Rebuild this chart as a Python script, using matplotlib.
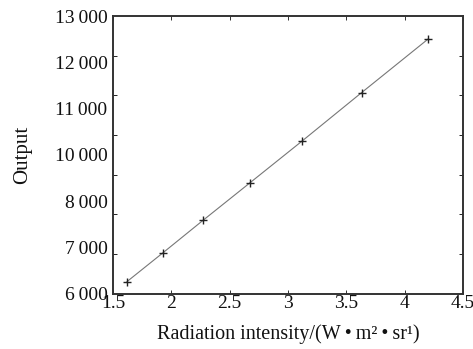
import numpy as np
import matplotlib.pyplot as plt

# values
intensity = [1.62, 1.93, 2.27, 2.67, 3.12, 3.63, 4.20]
output = [6310, 7040, 7850, 8790, 9850, 11070, 12420]

x_ticks = [1.5, 2, 2.5, 3, 3.5, 4, 4.5]
x_labels = ["1.5", "2", "2.5", "3", "3.5", "4", "4.5"]
y_labels = ["6\u2009000", "7\u2009000", "8\u2009000", "10\u2009000", "11\u2009000", "12\u2009000", "13\u2009000"]

plt.rcParams["font.family"] = ["Liberation Serif", "DejaVu Serif"]

fig = plt.figure(figsize=(4.73, 3.49), dpi=100)
ax = fig.add_axes([0.239, 0.158, 0.740, 0.796])

ax.plot(intensity, output, color="#777777", linewidth=0.8,
        marker="+", markersize=6, markeredgecolor="#222222", markeredgewidth=1.0)

ax.set_xlim(1.5, 4.5)
ax.set_ylim(6000, 13000)

ax.set_xticks(x_ticks)
ax.set_xticklabels(x_labels)

# the printed labels are spread evenly, the tick marks sit every 1000
ax.set_yticks(np.linspace(6000, 13000, len(y_labels)))
ax.set_yticklabels(y_labels)
ax.set_yticks(np.arange(6000, 13001, 1000), minor=True)

ax.tick_params(axis="both", which="major", labelsize=14, colors="#111111")
ax.tick_params(axis="x", which="major", direction="in", length=3, width=0.6,
               top=True, pad=1)
ax.tick_params(axis="y", which="major", length=0, pad=4)
ax.tick_params(axis="y", which="minor", direction="in", length=3, width=0.6,
               right=True)

for s in ax.spines.values():
    s.set_linewidth(1.4)
    s.set_color("#333333")

ax.set_xlabel("Radiation intensity/(W\u2009\u2022\u2009m\u00b2\u2009\u2022\u2009sr\u00b9)",
              fontsize=14.5, color="#111111", labelpad=9)
ax.set_ylabel("Output", fontsize=15, color="#111111", labelpad=16)

fig.savefig("out.png", dpi=100)
